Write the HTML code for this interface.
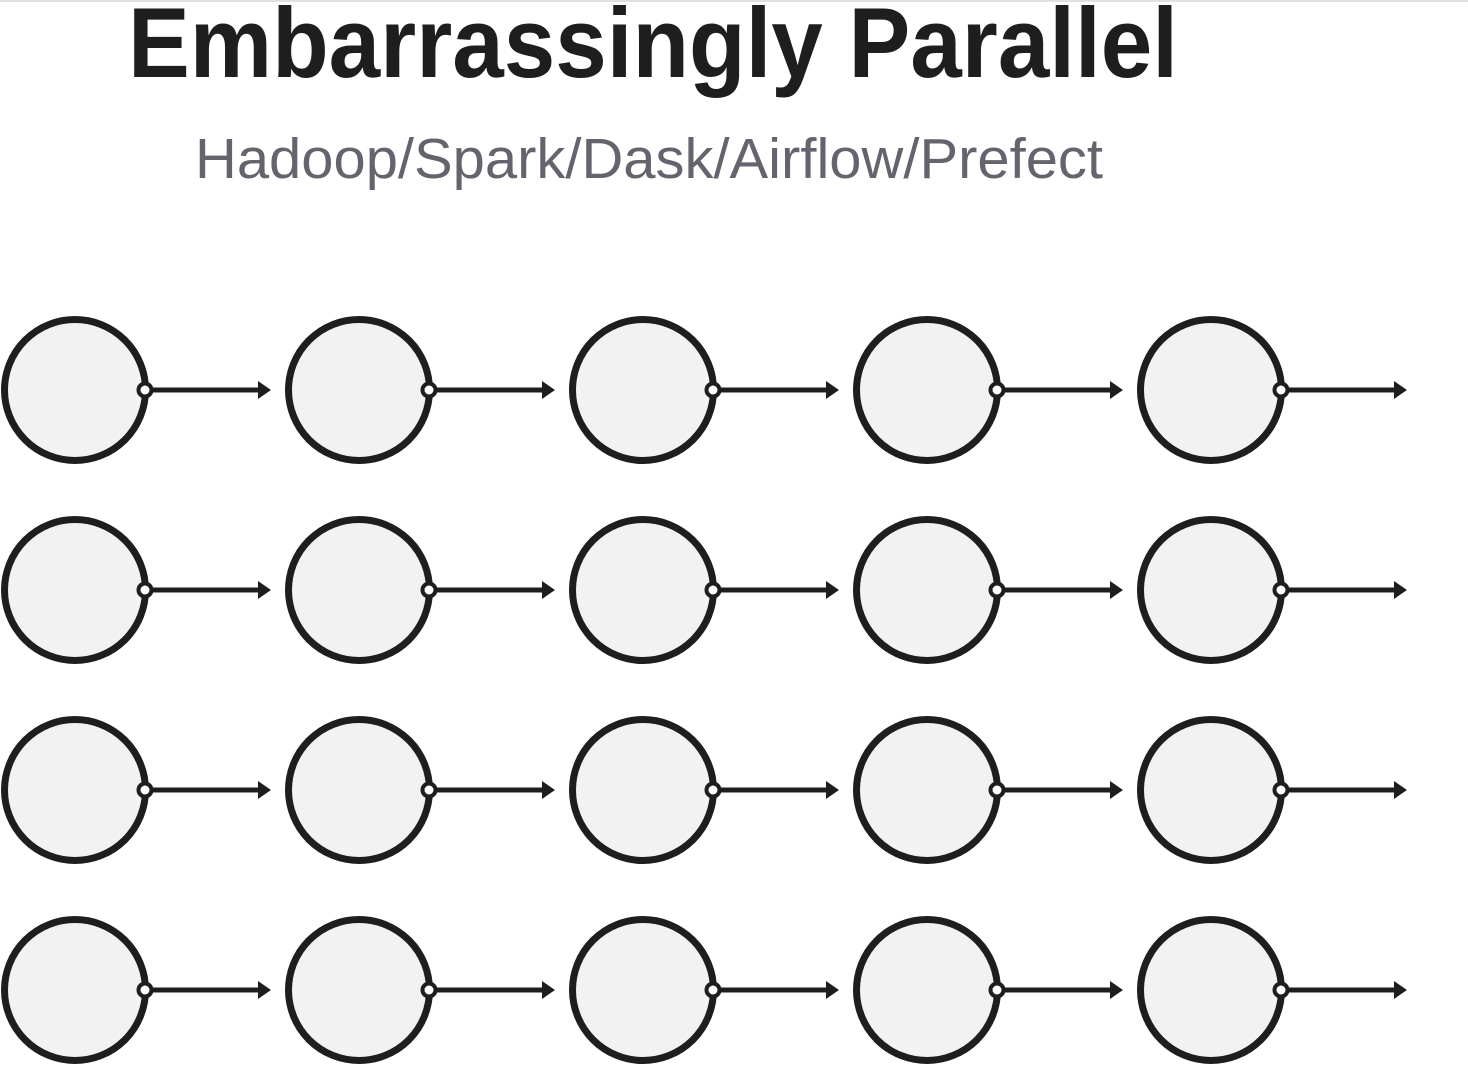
<!DOCTYPE html>
<html><head><meta charset="utf-8"><style>
html,body{margin:0;padding:0;background:#fff;}
svg{display:block;}
</style></head><body>
<svg id="chart" width="1468" height="1092" viewBox="0 0 1468 1092" xmlns="http://www.w3.org/2000/svg">
<line x1="0" y1="1" x2="1468" y2="1" stroke="#e0e0e0" stroke-width="2"/>
<text x="128" y="77" font-family="Liberation Sans, sans-serif" font-weight="bold" font-size="99" fill="#1e1e1e" textLength="1050" lengthAdjust="spacingAndGlyphs">Embarrassingly Parallel</text>
<text x="195" y="178" font-family="Liberation Sans, sans-serif" font-size="57" fill="#64646e" textLength="908" lengthAdjust="spacingAndGlyphs">Hadoop/Spark/Dask/Airflow/Prefect</text>
<g id="nodes"></g>
</svg>
<script>
const rows = [0,1,2,3];
const cols = [0,1,2,3,4];
const ns='http://www.w3.org/2000/svg';
const g=document.getElementById('nodes');
function mk(t,a){const e=document.createElementNS(ns,t);for(const k in a)e.setAttribute(k,a[k]);return e;}
rows.forEach(r=>{cols.forEach(c=>{
  const cx=75+c*284, cy=390+r*200;
  const grp=mk('g',{});
  
  
  const circ=mk('circle',{cx:cx,cy:cy,r:70.5,fill:'#f2f2f2',stroke:'#1e1e1e','stroke-width':7});
  
  
  const ln=mk('line',{x1:cx+78,y1:cy,x2:cx+186,y2:cy,stroke:'#1e1e1e','stroke-width':5});
  
  
  const ah=mk('polygon',{points:(cx+183)+','+(cy-9)+' '+(cx+196)+','+cy+' '+(cx+183)+','+(cy+9),fill:'#1e1e1e'});
  
  
  const port=mk('circle',{cx:cx+70,cy:cy,r:6.5,fill:'#fff',stroke:'#1e1e1e','stroke-width':4});
  
  
  grp.appendChild(circ);grp.appendChild(ln);grp.appendChild(ah);grp.appendChild(port);
  g.appendChild(grp);
});});
</script>
</body></html>
